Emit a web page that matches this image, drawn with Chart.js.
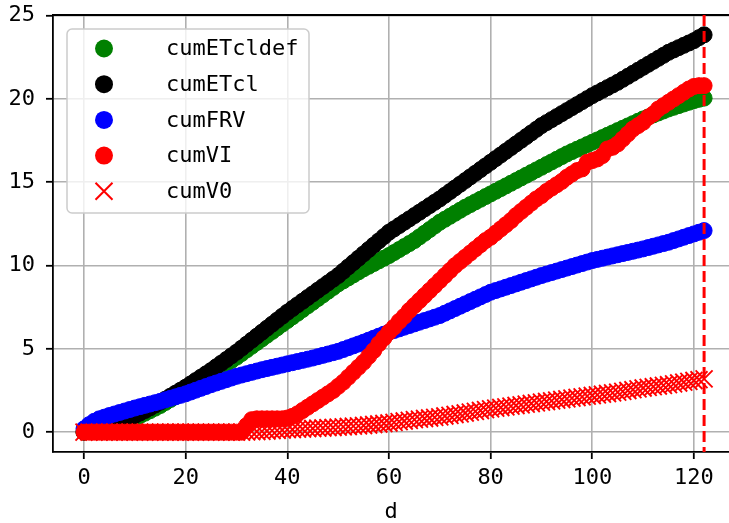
<!DOCTYPE html>
<html>
<head>
<meta charset="utf-8">
<script src="https://cdn.jsdelivr.net/npm/chart.js@4.4.1/dist/chart.umd.min.js"></script>
<style>
html, body { margin: 0; padding: 0; background: #fff; overflow: hidden; }
#wrap { width: 729px; height: 523px; }
</style>
</head>
<body>
<div id="wrap"><canvas id="c"></canvas></div>
<script>
// jours 0..122
const days = Array.from({ length: 123 }, (_, i) => i);

const cumETcldef = [
  0, 0.04, 0.09, 0.15, 0.22, 0.3, 0.4, 0.5, 0.61, 0.73, 0.85,
  0.99, 1.14, 1.29, 1.44, 1.6, 1.78, 1.96, 2.14, 2.32, 2.5,
  2.7, 2.9, 3.1, 3.3, 3.5, 3.7, 3.9, 4.1, 4.3, 4.5,
  4.72, 4.94, 5.16, 5.38, 5.6, 5.82, 6.04, 6.26, 6.48, 6.7,
  6.92, 7.14, 7.36, 7.58, 7.8, 8.02, 8.24, 8.46, 8.68, 8.9,
  9.08, 9.26, 9.44, 9.62, 9.8, 9.96, 10.12, 10.28, 10.44, 10.6,
  10.78, 10.96, 11.14, 11.32, 11.5, 11.72, 11.94, 12.16, 12.38, 12.6,
  12.78, 12.96, 13.14, 13.32, 13.5, 13.66, 13.82, 13.98, 14.14, 14.3,
  14.46, 14.62, 14.78, 14.94, 15.1, 15.26, 15.42, 15.58, 15.74, 15.9,
  16.06, 16.22, 16.38, 16.54, 16.7, 16.84, 16.98, 17.12, 17.26, 17.4,
  17.54, 17.68, 17.82, 17.96, 18.1, 18.24, 18.38, 18.52, 18.66, 18.8,
  18.92, 19.04, 19.16, 19.28, 19.4, 19.5, 19.6, 19.7, 19.8, 19.9,
  19.98, 20.05
];

const cumETcl = [
  0, 0.05, 0.1, 0.18, 0.26, 0.35, 0.47, 0.6, 0.72, 0.86, 1.0,
  1.15, 1.3, 1.46, 1.63, 1.8, 1.98, 2.16, 2.34, 2.52, 2.7,
  2.9, 3.1, 3.3, 3.5, 3.7, 3.92, 4.14, 4.36, 4.58, 4.8,
  5.04, 5.28, 5.52, 5.76, 6.0, 6.24, 6.48, 6.72, 6.96, 7.2,
  7.42, 7.64, 7.86, 8.08, 8.3, 8.52, 8.74, 8.96, 9.18, 9.4,
  9.66, 9.92, 10.18, 10.44, 10.7, 10.96, 11.22, 11.48, 11.74, 12.0,
  12.2, 12.4, 12.6, 12.8, 13.0, 13.2, 13.4, 13.6, 13.8, 14.0,
  14.22, 14.44, 14.66, 14.88, 15.1, 15.32, 15.54, 15.76, 15.98, 16.2,
  16.42, 16.64, 16.86, 17.08, 17.3, 17.52, 17.74, 17.96, 18.18, 18.4,
  18.58, 18.76, 18.94, 19.12, 19.3, 19.48, 19.66, 19.84, 20.02, 20.2,
  20.36, 20.52, 20.68, 20.84, 21.0, 21.18, 21.36, 21.54, 21.72, 21.9,
  22.08, 22.26, 22.44, 22.62, 22.8, 22.94, 23.08, 23.22, 23.36, 23.5,
  23.68, 23.85
];

const cumFRV = [
  0.2, 0.45, 0.65, 0.8, 0.9, 1.0, 1.09, 1.18, 1.27, 1.36, 1.45,
  1.53, 1.61, 1.69, 1.77, 1.85, 1.94, 2.03, 2.12, 2.21, 2.3,
  2.41, 2.52, 2.63, 2.74, 2.85, 2.95, 3.05, 3.15, 3.25, 3.35,
  3.43, 3.51, 3.59, 3.67, 3.75, 3.82, 3.89, 3.96, 4.03, 4.1,
  4.17, 4.24, 4.31, 4.38, 4.45, 4.53, 4.61, 4.69, 4.77, 4.85,
  4.96, 5.07, 5.18, 5.29, 5.4, 5.52, 5.64, 5.76, 5.88, 6.0,
  6.1, 6.2, 6.3, 6.4, 6.5, 6.6, 6.7, 6.8, 6.9, 7.0,
  7.14, 7.28, 7.42, 7.56, 7.7, 7.84, 7.98, 8.12, 8.26, 8.4,
  8.5, 8.6, 8.7, 8.8, 8.9, 9.0, 9.1, 9.2, 9.3, 9.4,
  9.49, 9.58, 9.67, 9.76, 9.85, 9.94, 10.03, 10.12, 10.21, 10.3,
  10.37, 10.44, 10.51, 10.58, 10.65, 10.72, 10.79, 10.86, 10.93, 11.0,
  11.08, 11.16, 11.24, 11.32, 11.4, 11.5, 11.6, 11.7, 11.8, 11.9,
  12.0, 12.1
];

const cumVI = [
  0, 0, 0, 0, 0, 0, 0, 0, 0, 0, 0,
  0, 0, 0, 0, 0, 0, 0, 0, 0, 0,
  0, 0, 0, 0, 0, 0, 0, 0, 0, 0,
  0, 0.4, 0.75, 0.8, 0.8, 0.8, 0.8, 0.8, 0.8, 0.85,
  0.95, 1.1, 1.3, 1.5, 1.7, 1.9, 2.1, 2.3, 2.5, 2.75,
  3.0, 3.3, 3.6, 3.9, 4.2, 4.55, 4.9, 5.3, 5.65, 6.0,
  6.3, 6.65, 6.95, 7.3, 7.6, 7.9, 8.2, 8.5, 8.8, 9.1,
  9.4, 9.7, 10.0, 10.25, 10.5, 10.75, 11.0, 11.25, 11.5, 11.7,
  11.95, 12.2, 12.45, 12.7, 13.0, 13.25, 13.5, 13.75, 14.0, 14.2,
  14.45, 14.65, 14.85, 15.05, 15.3, 15.5, 15.7, 15.8, 16.2, 16.3,
  16.4, 16.6, 17.0, 17.1, 17.3, 17.6, 17.9, 18.2, 18.4, 18.6,
  18.9, 19.1, 19.4, 19.6, 19.8, 20.0, 20.2, 20.4, 20.6, 20.75,
  20.8, 20.8
];

const cumV0 = [
  0, 0, 0, 0, 0, 0, 0, 0, 0, 0, 0,
  0, 0, 0, 0, 0, 0, 0, 0, 0, 0,
  0, 0, 0, 0, 0, 0, 0, 0, 0, 0,
  0, 0.02, 0.03, 0.04, 0.05, 0.07, 0.09, 0.11, 0.13, 0.15,
  0.16, 0.18, 0.19, 0.21, 0.22, 0.24, 0.25, 0.27, 0.28, 0.3,
  0.32, 0.34, 0.36, 0.38, 0.4, 0.43, 0.46, 0.49, 0.52, 0.55,
  0.59, 0.63, 0.67, 0.71, 0.75, 0.78, 0.82, 0.85, 0.89, 0.92,
  0.97, 1.01, 1.06, 1.1, 1.15, 1.2, 1.25, 1.3, 1.35, 1.4,
  1.44, 1.48, 1.52, 1.56, 1.6, 1.64, 1.68, 1.72, 1.76, 1.8,
  1.84, 1.88, 1.92, 1.96, 2.0, 2.04, 2.08, 2.12, 2.16, 2.2,
  2.24, 2.28, 2.32, 2.36, 2.4, 2.45, 2.5, 2.55, 2.6, 2.65,
  2.69, 2.73, 2.77, 2.81, 2.85, 2.9, 2.95, 3.0, 3.05, 3.1,
  3.15, 3.2
];

const xTicks = [0, 20, 40, 60, 80, 100, 120];
const yTicks = [0, 5, 10, 15, 20, 25];
const lastDay = 122; // ligne verticale en pointillés

const FONT = 'DejaVu Sans Mono';
const pts = arr => arr.map((v, i) => ({ x: days[i], y: v }));

function dot(label, values, color, order) {
  return {
    label, data: pts(values), order,
    pointStyle: 'circle', pointRadius: 8, pointBorderWidth: 1,
    backgroundColor: color, borderColor: color
  };
}

// cadre haut, ligne verticale et légende
const extras = {
  id: 'extras',
  afterDatasetsDraw(chart) {
    const { ctx, chartArea: a, scales: { x } } = chart;
    ctx.save();
    ctx.strokeStyle = '#000';
    ctx.lineWidth = 1.8;
    ctx.beginPath();
    ctx.moveTo(a.left, a.top);
    ctx.lineTo(a.right, a.top);
    ctx.stroke();

    const px = x.getPixelForValue(lastDay);
    ctx.strokeStyle = 'red';
    ctx.lineWidth = 3;
    ctx.setLineDash([11, 5]);
    ctx.beginPath();
    ctx.moveTo(px, a.top);
    ctx.lineTo(px, a.bottom);
    ctx.stroke();
    ctx.restore();
  },
  afterDraw(chart) {
    const { ctx, chartArea: a } = chart;
    const bx = a.left + 14, by = a.top + 14, bw = 242, bh = 184;
    ctx.save();
    ctx.fillStyle = 'rgba(255,255,255,0.8)';
    ctx.strokeStyle = '#cccccc';
    ctx.lineWidth = 1.5;
    ctx.beginPath();
    ctx.roundRect(bx, by, bw, bh, 5);
    ctx.fill();
    ctx.stroke();
    chart.data.datasets.forEach((ds, i) => {
      const cy = by + 19.5 + i * 35.7;
      const mx = bx + 37;
      if (ds.pointStyle === 'crossRot') {
        ctx.strokeStyle = ds.borderColor;
        ctx.lineWidth = 2;
        ctx.beginPath();
        ctx.moveTo(mx - 8.5, cy - 8.5); ctx.lineTo(mx + 8.5, cy + 8.5);
        ctx.moveTo(mx - 8.5, cy + 8.5); ctx.lineTo(mx + 8.5, cy - 8.5);
        ctx.stroke();
      } else {
        ctx.fillStyle = ds.backgroundColor;
        ctx.beginPath();
        ctx.arc(mx, cy, 9, 0, Math.PI * 2);
        ctx.fill();
      }
      ctx.fillStyle = '#000';
      ctx.font = '22px "' + FONT + '"';
      ctx.textBaseline = 'middle';
      ctx.fillText(ds.label, bx + 99, cy + 1);
    });
    ctx.restore();
  }
};

new Chart(document.getElementById('c'), {
  type: 'scatter',
  data: {
    datasets: [
      dot('cumETcldef', cumETcldef, 'green', 5),
      dot('cumETcl', cumETcl, 'black', 4),
      dot('cumFRV', cumFRV, 'blue', 3),
      dot('cumVI', cumVI, 'red', 2),
      {
        label: 'cumV0', data: pts(cumV0), order: 1,
        pointStyle: 'crossRot', pointRadius: 12, pointBorderWidth: 1.9,
        backgroundColor: 'red', borderColor: 'red'
      }
    ]
  },
  options: {
    responsive: true,
    maintainAspectRatio: false,
    animation: false,
    events: [],
    layout: { autoPadding: false, padding: { top: 15, right: 0, left: 0, bottom: 0 } },
    plugins: { legend: { display: false }, tooltip: { enabled: false } },
    scales: {
      x: {
        type: 'linear', min: -6.1, max: 126.9,
        afterBuildTicks: s => { s.ticks = xTicks.map(v => ({ value: v })); },
        afterFit: s => { s.height = 71; s.paddingLeft = 0; s.paddingRight = 0; },
        ticks: { color: '#000', padding: 6, font: { family: FONT, size: 22 } },
        grid: { color: '#b0b0b0', lineWidth: 1.6, tickColor: '#000', tickLength: 7, tickWidth: 1.8 },
        border: { color: '#000', width: 1.8 },
        title: { display: true, text: 'd', color: '#000', padding: 0,
                 font: { family: FONT, size: 22, lineHeight: 1 } }
      },
      y: {
        type: 'linear', min: -1.19, max: 25.04,
        afterBuildTicks: s => { s.ticks = yTicks.map(v => ({ value: v })); },
        afterFit: s => { s.width = 53; s.paddingTop = 0; s.paddingBottom = 0; },
        ticks: { color: '#000', padding: 11, font: { family: FONT, size: 22 } },
        grid: { color: '#b0b0b0', lineWidth: 1.6, tickColor: '#000', tickLength: 7, tickWidth: 1.8 },
        border: { color: '#000', width: 1.8 }
      }
    }
  },
  plugins: [extras]
});
</script>
</body>
</html>
